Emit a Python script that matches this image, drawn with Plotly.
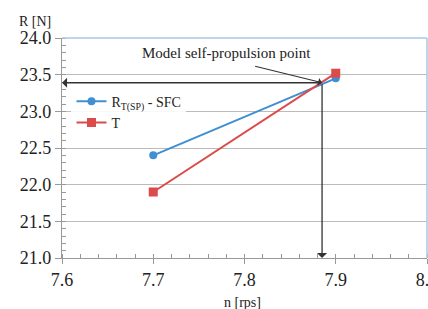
import plotly.graph_objects as go

n_rps = [7.7, 7.9]
rt_sfc = [22.4, 23.45]
thrust = [21.9, 23.52]
sp_n = 7.885
sp_r = 23.39
x_ticks = [7.6, 7.7, 7.8, 7.9, 8.0]
y_ticks = [21.0, 21.5, 22.0, 22.5, 23.0, 23.5, 24.0]

serif = "Liberation Serif"
fig = go.Figure()
fig.add_trace(go.Scatter(x=n_rps, y=rt_sfc, mode="lines+markers", name="R<sub>T(SP)</sub> - SFC",
                         line=dict(color="#3f8fd2", width=2), marker=dict(symbol="circle", size=8, color="#3f8fd2")))
fig.add_trace(go.Scatter(x=n_rps, y=thrust, mode="lines+markers", name="T",
                         line=dict(color="#dc4b4b", width=2), marker=dict(symbol="square", size=9, color="#dc4b4b")))

# arrows
fig.add_annotation(x=x_ticks[0], y=sp_r, ax=sp_n, ay=sp_r, xref="x", yref="y", axref="x", ayref="y",
                   text="", showarrow=True, arrowhead=1, arrowsize=1.3, arrowwidth=1.3, arrowcolor="#333333")
fig.add_annotation(x=sp_n, y=y_ticks[0], ax=sp_n, ay=sp_r, xref="x", yref="y", axref="x", ayref="y",
                   text="", showarrow=True, arrowhead=1, arrowsize=1.3, arrowwidth=1.3, arrowcolor="#333333")
fig.add_annotation(x=sp_n, y=sp_r, ax=7.81, ay=23.62, xref="x", yref="y", axref="x", ayref="y",
                   text="", showarrow=True, arrowhead=1, arrowsize=1.1, arrowwidth=1.2, arrowcolor="#333333")
fig.add_annotation(x=7.78, y=23.80, xref="x", yref="y", text="Model self-propulsion point", showarrow=False,
                   font=dict(family=serif, size=15, color="#222222"))

fig.add_annotation(x=0.0, y=1.0, xref="paper", yref="paper", xanchor="center", yanchor="bottom",
                   xshift=-27, yshift=7,
                   text="R [N]", showarrow=False, font=dict(family=serif, size=14, color="#222222"))
fig.add_annotation(x=0.495, y=0, xref="paper", yref="paper", yanchor="top", yshift=-35,
                   text="n [rps]", showarrow=False, font=dict(family=serif, size=14, color="#222222"))

# border top/right light blue
fig.add_shape(type="line", xref="paper", yref="paper", x0=0, x1=1, y0=1, y1=1, line=dict(color="#a9c8e6", width=1.5))
fig.add_shape(type="line", xref="paper", yref="paper", x0=1, x1=1, y0=0, y1=1, line=dict(color="#a9c8e6", width=1.5))

fig.update_xaxes(range=[7.6, 8.0], tickvals=x_ticks, ticktext=[f"{v:.1f}" for v in x_ticks], automargin=False,
                 ticklabeloverflow="allow",
                 showgrid=False, zeroline=False, showline=True, linecolor="#999999", linewidth=1.3,
                 ticks="outside", ticklen=5, tickcolor="#999999",
                 minor=dict(dtick=0.02, ticks="inside", ticklen=4, tickcolor="#999999", showgrid=False),
                 tickfont=dict(family=serif, size=18, color="#222222"))
fig.update_yaxes(range=[21.0, 24.0], tickvals=y_ticks, ticktext=[f"{v:.1f}" for v in y_ticks], automargin=False,
                 showgrid=True, gridcolor="#bbbbbb", gridwidth=1, zeroline=False,
                 showline=True, linecolor="#999999", linewidth=1.3,
                 ticks="outside", ticklen=6, tickcolor="#999999",
                 minor=dict(dtick=0.1, ticks="inside", ticklen=4, tickcolor="#999999", showgrid=False),
                 tickfont=dict(family=serif, size=18, color="#222222"))

fig.update_layout(width=428, height=309, margin=dict(l=62, r=1, t=38, b=51, autoexpand=False),
                  plot_bgcolor="white", paper_bgcolor="white",
                  legend=dict(x=0.026, y=0.783, xanchor="left", yanchor="top", bgcolor="rgba(255,255,255,0.9)",
                              font=dict(family=serif, size=14, color="#222222"), tracegroupgap=0,
                              itemwidth=30),
                  showlegend=True)
fig.write_html("out.html", config={"displayModeBar": False},
               post_script="document.body.style.margin='0';document.body.style.overflow='hidden';")
